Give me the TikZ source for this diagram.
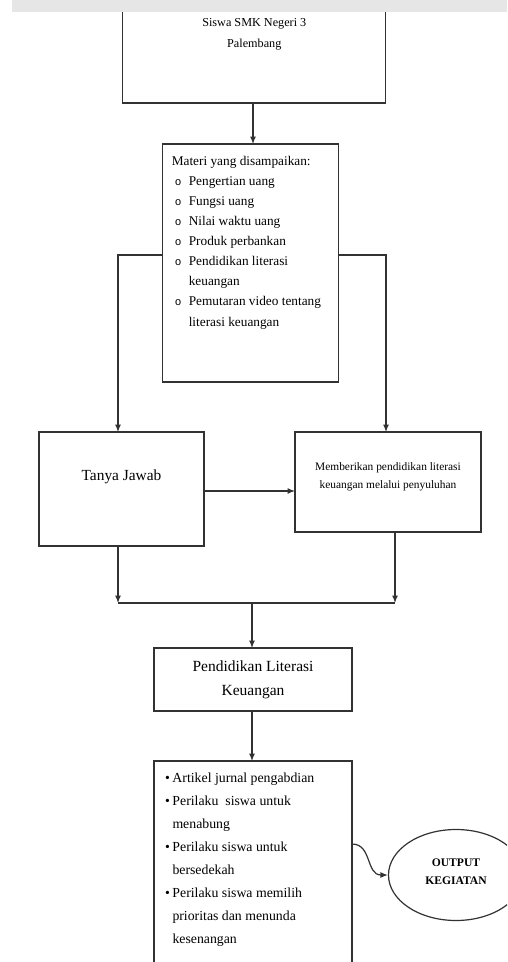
\documentclass[tikz,border=0pt]{standalone}
\usepackage{fontspec}
\setmainfont{Liberation Serif}
\newfontfamily\bulletfont{Liberation Mono}
\usetikzlibrary{arrows, arrows.meta, shapes.geometric}

\definecolor{garis}{RGB}{50,50,50}
\definecolor{pita}{RGB}{230,230,230}

% text inside a box: height, width, top gap, content
\newcommand{\isi}[4]{\parbox[c][#1][t]{#2}{\vspace*{#3}#4}}
\newcommand{\titik}{\makebox[17pt][l]{\hspace{3pt}{\bulletfont\fontsize{11pt}{11pt}\selectfont o}}}
\newcommand{\bul}{\makebox[7.5pt][l]{\textbullet}}

\tikzset{
    kotak/.style={draw=garis, line width=1.2pt, rectangle, inner sep=0pt, outer sep=0pt},
}

\begin{document}
\begin{tikzpicture}[>={Latex[length=7.5pt,width=6pt]}, x=1pt, y=-1pt, line width=1.2pt]
    \path[use as bounding box, fill=white] (0,0) rectangle (507,962);
    \clip (0,0) rectangle (507,962);

    \node[kotak] (siswa) at (254.3,41.5)
        {\isi{123pt}{263pt}{38pt}{\centering\fontsize{12.2pt}{21pt}\selectfont
        Siswa SMK Negeri 3\\Palembang}};
    \node[kotak] (materi) at (250.8,263)
        {\isi{238pt}{176pt}{12pt}{\fontsize{13.3pt}{20.1pt}\selectfont\leftskip=9pt
        Materi yang disampaikan:\\
        \titik Pengertian uang\\
        \titik Fungsi uang\\
        \titik Nilai waktu uang\\
        \titik Produk perbankan\\
        \titik Pendidikan literasi\\
        \hspace*{17pt}keuangan\\
        \titik Pemutaran video tentang\\
        \hspace*{17pt}literasi keuangan}};
    \node[kotak] (tanya) at (121.5,489)
        {\isi{114pt}{165pt}{38pt}{\centering\fontsize{15.4pt}{20pt}\selectfont
        Tanya Jawab}};
    \node[kotak] (beri) at (388,482)
        {\isi{100pt}{186pt}{31pt}{\centering\fontsize{11.4pt}{18pt}\selectfont
        Memberikan pendidikan literasi\\keuangan melalui penyuluhan}};
    \node[kotak] (pendidikan) at (253,679.5)
        {\isi{63pt}{198pt}{13pt}{\centering\fontsize{15.5pt}{24pt}\selectfont
        Pendidikan Literasi\\Keuangan}};
    \node[kotak, anchor=north] (hasil) at (253,761)
        {\isi{230pt}{198pt}{12pt}{\fontsize{13.8pt}{23pt}\selectfont\leftskip=11pt
        \bul Artikel jurnal pengabdian\\
        \bul Perilaku\ \ siswa untuk\\
        \hspace*{7.5pt}menabung\\
        \bul Perilaku siswa untuk\\
        \hspace*{7.5pt}bersedekah\\
        \bul Perilaku siswa memilih\\
        \hspace*{7.5pt}prioritas dan menunda\\
        \hspace*{7.5pt}kesenangan}};
    \node[draw=garis, ellipse, minimum width=135pt, minimum height=91pt, inner sep=0pt,
        align=center, text depth=6pt, font=\bfseries\fontsize{11.6pt}{18pt}\selectfont] (luaran) at (456,875)
        {OUTPUT\\KEGIATAN};

    % titik bantu
    \coordinate (kiri) at ([yshift=8pt]materi.west);
    \coordinate (kanan) at ([yshift=8pt]materi.east);
    \coordinate (tj) at ([yshift=-2pt]tanya.east);
    \coordinate (tjs) at ([xshift=-3.5pt]tanya.south);
    \coordinate (brs) at ([xshift=7pt]beri.south);
    \coordinate (gabung) at (252,603);

    \draw[garis, ->] (siswa.south -| 253,0) -- (materi.north -| 253,0);
    \draw[garis, ->] (kiri) -| ([xshift=-3.5pt]tanya.north);
    \draw[garis, ->] (kanan) -| ([xshift=-2pt]beri.north);
    \draw[garis, ->] (tj) -- (tj -| beri.west);
    \draw[garis, ->] (tjs) -- (tjs |- gabung);
    \draw[garis, ->] (brs) -- (brs |- gabung);
    \draw[garis] (tjs |- gabung) -- (brs |- gabung);
    \draw[garis, ->] (gabung) -- (gabung |- pendidikan.north);
    \draw[garis, ->] (pendidikan.south -| gabung) -- (hasil.north -| gabung);
    \draw[garis, ->] ([yshift=-83pt]hasil.north east) .. controls +(20,0) and +(-22,0) .. (luaran.west);

    \fill[pita] (12,0) rectangle (507,12);
\end{tikzpicture}
\end{document}
